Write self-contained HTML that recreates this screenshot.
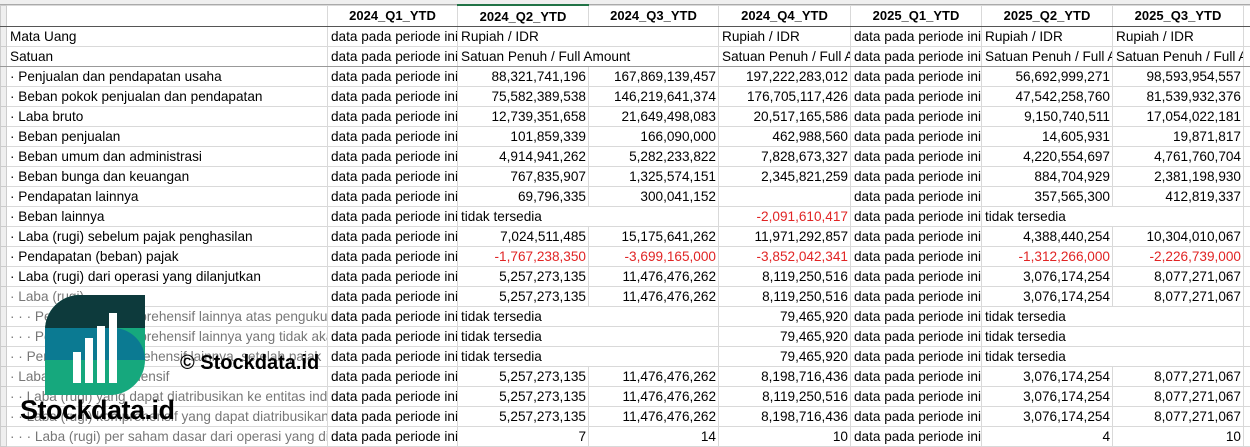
<!DOCTYPE html>
<html><head><meta charset="utf-8"><style>
body{margin:0;width:1250px;height:447px;overflow:hidden;background:#fff;font-family:"Liberation Sans",sans-serif;font-size:13.6px;color:#000;position:relative}
table{position:absolute;left:0;top:4px;border-collapse:collapse;table-layout:fixed;width:1257px}
td{height:19px;padding:0;border:1px solid #d9d9d9;white-space:nowrap;overflow:hidden;vertical-align:middle}
td div{padding:0 2px 0 3px;overflow:hidden;line-height:19px}
td.o{overflow:visible}td.o div{overflow:visible;position:relative;z-index:2}
td.r div{text-align:right}
td.n{border-right-color:transparent}
tr.h td{font-weight:bold;text-align:center;border-bottom:1.5px solid #555;height:20px;font-size:13px}
tr.s td{border-bottom:1.5px solid #999}
td.rh{background:#efefef;border-color:#ccc}
.red{color:#e02424}
.g{color:#777}
.lab{position:absolute;font-weight:bold;color:#000;z-index:5}
</style></head><body>
<div style="position:absolute;left:0;top:0;width:1250px;height:4px;background:#efefef;border-bottom:1px solid #aaa"></div>
<table>
<colgroup><col style="width:6px"><col style="width:321px"><col style="width:130px"><col style="width:131px"><col style="width:130px"><col style="width:132px"><col style="width:131px"><col style="width:131px"><col style="width:131px"><col style="width:14px"></colgroup>
<tr class="h"><td class="rh"></td><td></td><td>2024_Q1_YTD</td><td style="border-top:2px solid #217346">2024_Q2_YTD</td><td>2024_Q3_YTD</td><td>2024_Q4_YTD</td><td>2025_Q1_YTD</td><td>2025_Q2_YTD</td><td>2025_Q3_YTD</td><td></td></tr>
<tr><td class="rh"></td><td><div>Mata Uang</div></td><td><div>data pada periode ini</div></td><td class="o n"><div>Rupiah / IDR</div></td><td></td><td><div>Rupiah / IDR</div></td><td><div>data pada periode ini</div></td><td><div>Rupiah / IDR</div></td><td><div>Rupiah / IDR</div></td><td></td></tr>
<tr class="s"><td class="rh"></td><td><div>Satuan</div></td><td><div>data pada periode ini</div></td><td class="o n"><div>Satuan Penuh / Full Amount</div></td><td></td><td><div>Satuan Penuh / Full Amount</div></td><td><div>data pada periode ini</div></td><td><div>Satuan Penuh / Full Amount</div></td><td><div>Satuan Penuh / Full Amount</div></td><td></td></tr>
<tr><td class="rh"></td><td><div>· Penjualan dan pendapatan usaha</div></td><td><div>data pada periode ini</div></td><td class="r"><div>88,321,741,196</div></td><td class="r"><div>167,869,139,457</div></td><td class="r"><div>197,222,283,012</div></td><td><div>data pada periode ini</div></td><td class="r"><div>56,692,999,271</div></td><td class="r"><div>98,593,954,557</div></td><td></td></tr>
<tr><td class="rh"></td><td><div>· Beban pokok penjualan dan pendapatan</div></td><td><div>data pada periode ini</div></td><td class="r"><div>75,582,389,538</div></td><td class="r"><div>146,219,641,374</div></td><td class="r"><div>176,705,117,426</div></td><td><div>data pada periode ini</div></td><td class="r"><div>47,542,258,760</div></td><td class="r"><div>81,539,932,376</div></td><td></td></tr>
<tr><td class="rh"></td><td><div>· Laba bruto</div></td><td><div>data pada periode ini</div></td><td class="r"><div>12,739,351,658</div></td><td class="r"><div>21,649,498,083</div></td><td class="r"><div>20,517,165,586</div></td><td><div>data pada periode ini</div></td><td class="r"><div>9,150,740,511</div></td><td class="r"><div>17,054,022,181</div></td><td></td></tr>
<tr><td class="rh"></td><td><div>· Beban penjualan</div></td><td><div>data pada periode ini</div></td><td class="r"><div>101,859,339</div></td><td class="r"><div>166,090,000</div></td><td class="r"><div>462,988,560</div></td><td><div>data pada periode ini</div></td><td class="r"><div>14,605,931</div></td><td class="r"><div>19,871,817</div></td><td></td></tr>
<tr><td class="rh"></td><td><div>· Beban umum dan administrasi</div></td><td><div>data pada periode ini</div></td><td class="r"><div>4,914,941,262</div></td><td class="r"><div>5,282,233,822</div></td><td class="r"><div>7,828,673,327</div></td><td><div>data pada periode ini</div></td><td class="r"><div>4,220,554,697</div></td><td class="r"><div>4,761,760,704</div></td><td></td></tr>
<tr><td class="rh"></td><td><div>· Beban bunga dan keuangan</div></td><td><div>data pada periode ini</div></td><td class="r"><div>767,835,907</div></td><td class="r"><div>1,325,574,151</div></td><td class="r"><div>2,345,821,259</div></td><td><div>data pada periode ini</div></td><td class="r"><div>884,704,929</div></td><td class="r"><div>2,381,198,930</div></td><td></td></tr>
<tr><td class="rh"></td><td><div>· Pendapatan lainnya</div></td><td><div>data pada periode ini</div></td><td class="r"><div>69,796,335</div></td><td class="r"><div>300,041,152</div></td><td></td><td><div>data pada periode ini</div></td><td class="r"><div>357,565,300</div></td><td class="r"><div>412,819,337</div></td><td></td></tr>
<tr><td class="rh"></td><td><div>· Beban lainnya</div></td><td><div>data pada periode ini</div></td><td class="o n"><div>tidak tersedia</div></td><td></td><td class="r red"><div>-2,091,610,417</div></td><td><div>data pada periode ini</div></td><td class="o n"><div>tidak tersedia</div></td><td></td><td></td></tr>
<tr><td class="rh"></td><td><div>· Laba (rugi) sebelum pajak penghasilan</div></td><td><div>data pada periode ini</div></td><td class="r"><div>7,024,511,485</div></td><td class="r"><div>15,175,641,262</div></td><td class="r"><div>11,971,292,857</div></td><td><div>data pada periode ini</div></td><td class="r"><div>4,388,440,254</div></td><td class="r"><div>10,304,010,067</div></td><td></td></tr>
<tr><td class="rh"></td><td><div>· Pendapatan (beban) pajak</div></td><td><div>data pada periode ini</div></td><td class="r red"><div>-1,767,238,350</div></td><td class="r red"><div>-3,699,165,000</div></td><td class="r red"><div>-3,852,042,341</div></td><td><div>data pada periode ini</div></td><td class="r red"><div>-1,312,266,000</div></td><td class="r red"><div>-2,226,739,000</div></td><td></td></tr>
<tr><td class="rh"></td><td><div>· Laba (rugi) dari operasi yang dilanjutkan</div></td><td><div>data pada periode ini</div></td><td class="r"><div>5,257,273,135</div></td><td class="r"><div>11,476,476,262</div></td><td class="r"><div>8,119,250,516</div></td><td><div>data pada periode ini</div></td><td class="r"><div>3,076,174,254</div></td><td class="r"><div>8,077,271,067</div></td><td></td></tr>
<tr><td class="rh"></td><td class="g"><div>· Laba (rugi)</div></td><td><div>data pada periode ini</div></td><td class="r"><div>5,257,273,135</div></td><td class="r"><div>11,476,476,262</div></td><td class="r"><div>8,119,250,516</div></td><td><div>data pada periode ini</div></td><td class="r"><div>3,076,174,254</div></td><td class="r"><div>8,077,271,067</div></td><td></td></tr>
<tr><td class="rh"></td><td class="g"><div>· · · Penghasilan komprehensif lainnya atas pengukuran</div></td><td><div>data pada periode ini</div></td><td class="o n"><div>tidak tersedia</div></td><td></td><td class="r"><div>79,465,920</div></td><td><div>data pada periode ini</div></td><td class="o n"><div>tidak tersedia</div></td><td></td><td></td></tr>
<tr><td class="rh"></td><td class="g"><div>· · · Penghasilan komprehensif lainnya yang tidak akan</div></td><td><div>data pada periode ini</div></td><td class="o n"><div>tidak tersedia</div></td><td></td><td class="r"><div>79,465,920</div></td><td><div>data pada periode ini</div></td><td class="o n"><div>tidak tersedia</div></td><td></td><td></td></tr>
<tr><td class="rh"></td><td class="g"><div>· · Penghasilan komprehensif lainnya, setelah pajak</div></td><td><div>data pada periode ini</div></td><td class="o n"><div>tidak tersedia</div></td><td></td><td class="r"><div>79,465,920</div></td><td><div>data pada periode ini</div></td><td class="o n"><div>tidak tersedia</div></td><td></td><td></td></tr>
<tr><td class="rh"></td><td class="g"><div>· Laba (rugi) komprehensif</div></td><td><div>data pada periode ini</div></td><td class="r"><div>5,257,273,135</div></td><td class="r"><div>11,476,476,262</div></td><td class="r"><div>8,198,716,436</div></td><td><div>data pada periode ini</div></td><td class="r"><div>3,076,174,254</div></td><td class="r"><div>8,077,271,067</div></td><td></td></tr>
<tr><td class="rh"></td><td class="g"><div>· · Laba (rugi) yang dapat diatribusikan ke entitas induk</div></td><td><div>data pada periode ini</div></td><td class="r"><div>5,257,273,135</div></td><td class="r"><div>11,476,476,262</div></td><td class="r"><div>8,119,250,516</div></td><td><div>data pada periode ini</div></td><td class="r"><div>3,076,174,254</div></td><td class="r"><div>8,077,271,067</div></td><td></td></tr>
<tr><td class="rh"></td><td class="g"><div>· · Laba (rugi) komprehensif yang dapat diatribusikan</div></td><td><div>data pada periode ini</div></td><td class="r"><div>5,257,273,135</div></td><td class="r"><div>11,476,476,262</div></td><td class="r"><div>8,198,716,436</div></td><td><div>data pada periode ini</div></td><td class="r"><div>3,076,174,254</div></td><td class="r"><div>8,077,271,067</div></td><td></td></tr>
<tr><td class="rh"></td><td class="g"><div>· · · Laba (rugi) per saham dasar dari operasi yang dilanjutkan</div></td><td><div>data pada periode ini</div></td><td class="r"><div>7</div></td><td class="r"><div>14</div></td><td class="r"><div>10</div></td><td><div>data pada periode ini</div></td><td class="r"><div>4</div></td><td class="r"><div>10</div></td><td></td></tr>
</table>
<svg style="position:absolute;left:45px;top:295px;z-index:4" width="100" height="100" viewBox="0 0 100 100">
<defs><clipPath id="c"><path d="M35 0 H100 V65 A35 35 0 0 1 65 100 H0 V35 A35 35 0 0 1 35 0Z"/></clipPath></defs>
<g clip-path="url(#c)">
<rect width="100" height="100" fill="#16a87d"/>
<path d="M0 33 H68 A32 32 0 0 1 100 65 H0Z" fill="#0b7a92"/>
<rect width="100" height="33" fill="#0d3a3c"/>
</g>
<rect x="28" y="57" width="8" height="31" fill="#fff"/>
<rect x="40" y="43" width="8" height="45" fill="#fff"/>
<rect x="52" y="31" width="8" height="57" fill="#fff"/>
<rect x="64" y="18" width="8" height="70" fill="#fff"/>
</svg>
<div class="lab" style="left:180px;top:352px;font-size:20px">© Stockdata.id</div>
<div class="lab" style="left:20px;top:395px;font-size:27px;letter-spacing:-0.5px">Stockdata.id</div>
</body></html>
